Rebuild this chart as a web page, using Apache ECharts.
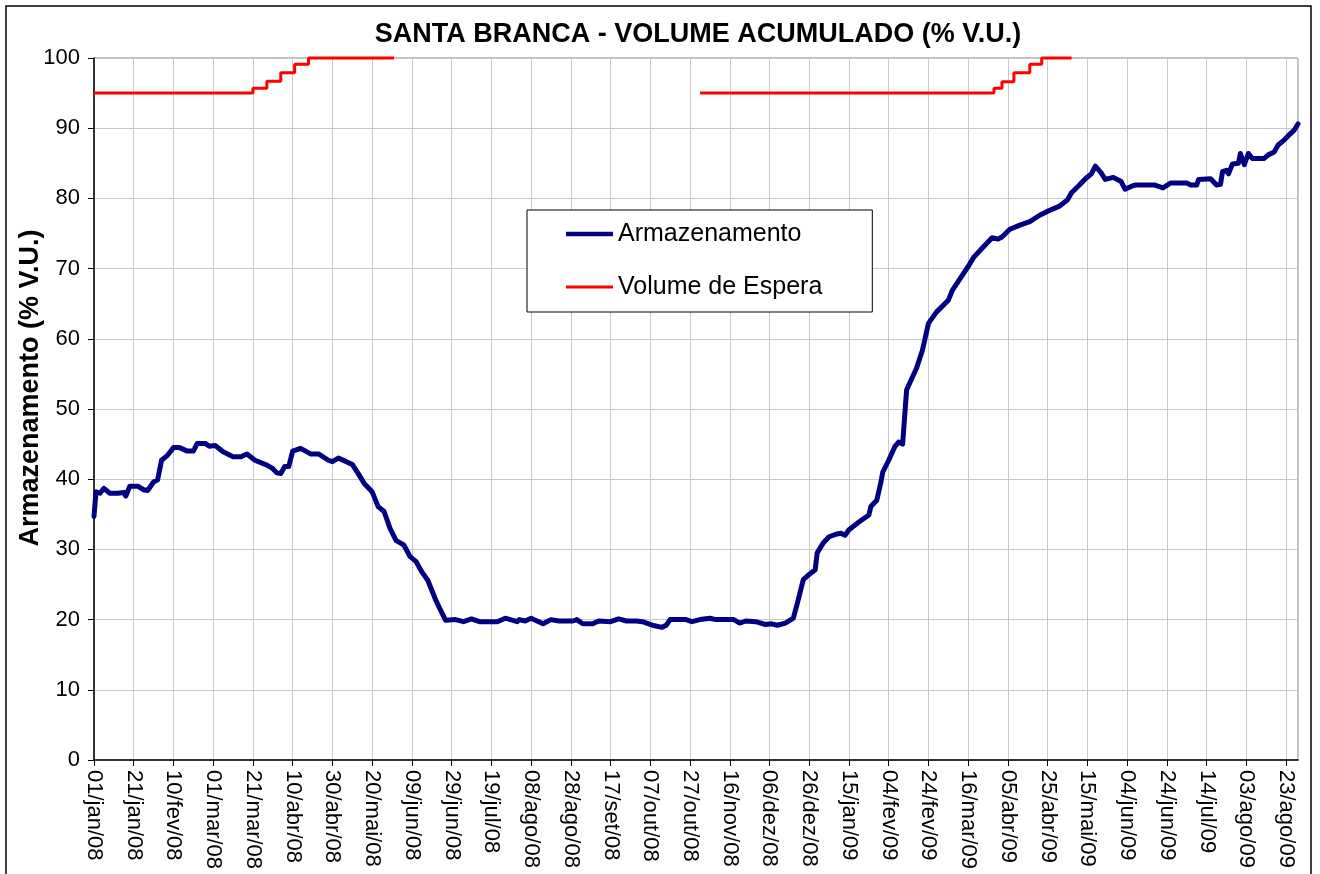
<!DOCTYPE html>
<html>
<head>
<meta charset="utf-8">
<script src="https://cdn.jsdelivr.net/npm/echarts@6/dist/echarts.min.js"></script>
<style>
html,body{margin:0;padding:0;background:#fff;}
#chart{width:1320px;height:874px;}
</style>
</head>
<body>
<div id="chart"></div>
<script>
// x values are days counted from 01/jan/08
const tickLabels = ['01/jan/08','21/jan/08','10/fev/08','01/mar/08','21/mar/08','10/abr/08','30/abr/08','20/mai/08','09/jun/08','29/jun/08','19/jul/08','08/ago/08','28/ago/08','17/set/08','07/out/08','27/out/08','16/nov/08','06/dez/08','26/dez/08','15/jan/09','04/fev/09','24/fev/09','16/mar/09','05/abr/09','25/abr/09','15/mai/09','04/jun/09','24/jun/09','14/jul/09','03/ago/09','23/ago/09'];

const armDays = [0,1,3,5,8,12,15,16,18,22,25,27,30,32,34,37,40,43,47,50,52,56,58,61,65,70,74,77,81,87,90,92,94,96,98,100,104,109,113,118,120,123,127,130,133,136,140,143,146,149,152,156,159,162,165,168,172,174,177,182,186,190,194,203,207,213,214,217,220,226,230,234,241,243,246,251,254,260,264,268,273,276,281,286,288,290,291,295,298,301,305,310,313,322,325,328,333,338,341,344,348,352,354,357,359,363,364,367,370,374,376,378,380,385,390,391,394,396,397,400,403,405,407,409,412,414,417,420,424,430,432,436,440,443,447,452,455,457,461,466,471,476,481,486,490,492,496,499,502,504,507,509,513,517,519,522,524,534,538,542,550,552,555,556,562,565,567,568,570,571,573,576,577,578,579,581,583,589,591,594,596,599,601,604,606];
const armValues = [34.7,38.2,38.0,38.7,38.0,38.0,38.1,37.6,39.0,39.0,38.5,38.4,39.6,39.9,42.7,43.4,44.5,44.5,44.0,44.0,45.1,45.1,44.7,44.8,43.9,43.2,43.2,43.6,42.7,42.0,41.5,40.9,40.8,41.8,41.8,44.0,44.4,43.6,43.6,42.7,42.5,43.0,42.5,42.1,40.8,39.4,38.2,36.1,35.4,33.0,31.3,30.6,29.0,28.3,26.8,25.6,22.8,21.6,19.9,20.0,19.7,20.1,19.7,19.7,20.2,19.7,20.0,19.8,20.2,19.4,20.0,19.8,19.8,20.0,19.4,19.4,19.8,19.7,20.1,19.8,19.8,19.7,19.2,18.9,19.2,20.0,19.8,20.0,20.0,19.7,20.0,20.2,20.0,20.0,19.5,19.8,19.7,19.3,19.4,19.2,19.5,20.2,22.3,25.7,26.2,27.1,29.5,30.9,31.8,32.2,32.3,32.0,32.8,33.9,34.9,36.1,37.0,39.5,41.0,42.7,44.6,45.3,45.0,52.7,54.6,55.8,58.4,62.2,63.8,65.5,66.9,68.6,70.3,71.7,72.9,74.4,74.2,74.5,75.6,76.2,76.7,77.6,78.3,78.9,79.8,80.8,81.9,82.8,83.5,84.6,83.6,82.7,83.0,82.4,81.3,81.7,81.9,81.9,81.5,82.2,82.2,81.9,81.9,82.7,82.8,81.9,82.0,83.8,84.0,83.5,84.9,85.0,86.4,86.2,84.8,86.4,85.7,85.7,86.2,86.6,87.6,88.3,88.9,89.7,90.6];

const esperaDays2008 = [0,80,87,94,101,108,151];
const esperaValues2008 = [95.0,95.7,96.7,97.9,99.1,100.0,100.0];
const esperaDays2009 = [305,453,457,463,471,477,492];
const esperaValues2009 = [95.0,95.7,96.6,97.9,99.1,100.0,100.0];

const FONT = '"Liberation Sans", Arial, sans-serif';
const pairs = (xs, ys) => xs.map((x, i) => [x, ys[i]]);

const chart = echarts.init(document.getElementById('chart'), null, {renderer: 'canvas'});
chart.setOption({
  backgroundColor: '#ffffff',
  animation: false,
  textStyle: {fontFamily: FONT, color: '#000'},
  title: {
    text: 'SANTA BRANCA - VOLUME ACUMULADO (% V.U.)',
    left: 693, top: 16, textAlign: 'center',
    textStyle: {fontFamily: FONT, fontSize: 27, fontWeight: 'bold', color: '#000'}
  },
  grid: {left: 94, right: 22, top: 58, bottom: 114, show: true, borderColor: '#808080', borderWidth: 1, containLabel: false},
  legend: {
    orient: 'vertical', left: 527, top: 210,
    padding: [9, 50, 10, 39], itemGap: 23, itemWidth: 47, itemHeight: 14,
    symbolKeepAspect: true,
    backgroundColor: '#ffffff', borderColor: '#000', borderWidth: 1,
    textStyle: {fontFamily: FONT, fontSize: 25, color: '#000', lineHeight: 30},
    data: [
      {name: 'Armazenamento', icon: 'path://M0,0H47V4.5H0Z', itemStyle: {color: '#000080'}},
      {name: 'Volume de Espera', icon: 'path://M0,0H47V3H0Z', itemStyle: {color: '#ff0000'}}
    ]
  },
  xAxis: {
    type: 'value', min: 0, max: 606, interval: 20,
    axisLine: {show: true, onZero: false, lineStyle: {color: '#000', width: 1.5}},
    axisTick: {show: true, length: 6, lineStyle: {color: '#000'}},
    splitLine: {show: true, lineStyle: {color: '#c8c8c8', width: 1}},
    axisLabel: {
      rotate: -90, margin: 10, fontSize: 22, color: '#000', fontFamily: FONT,
      showMaxLabel: false,
      formatter: v => (v % 20 === 0 && tickLabels[v / 20]) ? tickLabels[v / 20] : ''
    }
  },
  yAxis: {
    type: 'value', min: 0, max: 100, interval: 10,
    axisLine: {show: true, lineStyle: {color: '#000', width: 1.5}},
    axisTick: {show: true, length: 6, lineStyle: {color: '#000'}},
    splitLine: {show: true, lineStyle: {color: '#c8c8c8', width: 1}},
    axisLabel: {margin: 14, fontSize: 22, color: '#000', fontFamily: FONT}
  },
  graphic: [
    {type: 'rect', shape: {x: 6, y: 6, width: 1305, height: 880}, style: {fill: 'none', stroke: '#000', lineWidth: 1.5}, silent: true, z: 0},
    {type: 'text', x: 31, y: 388, rotation: Math.PI / 2,
     style: {text: 'Armazenamento (% V.U.)', font: 'bold 27px "Liberation Sans", Arial, sans-serif', fill: '#000', textAlign: 'center', textVerticalAlign: 'middle'}}
  ],
  series: [
    {name: 'Armazenamento', type: 'line', data: pairs(armDays, armValues), showSymbol: false, symbol: 'none', clip: false,
     lineStyle: {color: '#000080', width: 5, join: 'round', cap: 'round'}, itemStyle: {color: '#000080'}, z: 3},
    {name: 'Volume de Espera', type: 'line', step: 'end', data: pairs(esperaDays2008, esperaValues2008), showSymbol: false, symbol: 'none', clip: false,
     lineStyle: {color: '#ff0000', width: 3}, itemStyle: {color: '#ff0000'}, z: 2},
    {name: 'Volume de Espera', type: 'line', step: 'end', data: pairs(esperaDays2009, esperaValues2009), showSymbol: false, symbol: 'none', clip: false,
     lineStyle: {color: '#ff0000', width: 3}, itemStyle: {color: '#ff0000'}, z: 2}
  ]
});
</script>
</body>
</html>
